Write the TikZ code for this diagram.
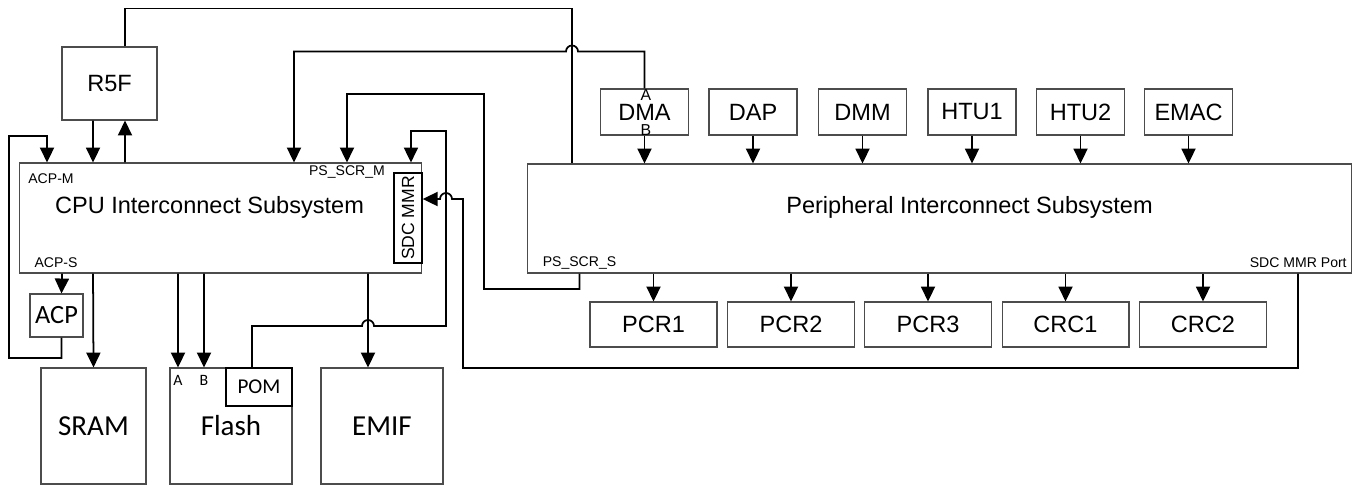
\documentclass[tikz,border=0pt]{standalone}
\usepackage{fontspec}
\setmainfont{Liberation Sans}
\newfontfamily\calfont{Carlito}
\usetikzlibrary{arrows.meta}

\begin{document}
\begin{tikzpicture}[x=0.02cm, y=-0.02cm,
  blk/.style={draw=black!70, line width=0.6pt, inner sep=0pt, font=\fontsize{13.4}{15}\selectfont},
  mem/.style={blk, font=\calfont\fontsize{16.5}{19}\selectfont},
  tag/.style={inner sep=0pt, font=\fontsize{8}{9}\selectfont},
  wire/.style={line width=1pt},
  arr/.style={wire, -{Triangle[length=8.5pt,width=8pt]}}]

\useasboundingbox (0,0) rectangle (1354,485);

% CPU side
\node[blk, minimum width=1.9cm, minimum height=1.46cm] (r5f) at (109.5,83.5) {R5F};
\node[blk, minimum width=8.06cm, minimum height=2.2cm] (cpu) at (220.5,218) {};
\node[inner sep=0pt, font=\fontsize{13.4}{15}\selectfont] (cpulbl) at (209.5,207) {CPU Interconnect Subsystem};
\node[draw, line width=0.8pt, minimum width=0.56cm, minimum height=1.8cm, inner sep=0pt] (sdc) at (408,218) {};
\node[rotate=90, inner sep=0pt, font=\fontsize{10}{11}\selectfont] (sdclbl) at (sdc) {SDC MMR};
\node[tag] (acpm) at (51,179) {ACP-M};
\node[tag] (acps) at (56,263) {ACP-S};
\node[tag] (psm) at (347,172) {PS\_SCR\_M};
\node[blk, font=\calfont\fontsize{15}{17}\selectfont, minimum width=1.06cm, minimum height=0.86cm] (acp) at (56.5,315.5) {ACP};

% memories
\node[mem, minimum width=2.1cm, minimum height=2.32cm] (sram) at (93.5,426) {SRAM};
\node[mem, minimum width=2.44cm, minimum height=2.32cm] (flash) at (231,426) {Flash};
\node[mem, minimum width=2.44cm, minimum height=2.32cm] (emif) at (382,426) {EMIF};
\node[draw, fill=white, line width=0.9pt, inner sep=0pt, minimum width=1.32cm, minimum height=0.76cm, font=\calfont\fontsize{12}{14}\selectfont] (pom) at (259,387) {POM};
\node[inner sep=0pt, font=\calfont\fontsize{9}{10}\selectfont] (fla) at (178,380) {A};
\node[inner sep=0pt, font=\calfont\fontsize{9}{10}\selectfont] (flb) at (204,380) {B};

% Peripheral side
\node[blk, minimum width=16.5cm, minimum height=2.18cm] (pis) at (939.5,218.5) {};
\node[inner sep=0pt, font=\fontsize{13.4}{15}\selectfont] (pislbl) at (969.5,207) {Peripheral Interconnect Subsystem};
\node[tag] (pss) at (579.5,263) {PS\_SCR\_S};
\node[tag, anchor=east] (sdcport) at (1347,263) {SDC MMR Port};

\foreach \n/\t/\x in {dma/DMA/644.5, dap/DAP/753, dmm/DMM/862.5, htu1/HTU1/972, htu2/HTU2/1080.5, emac/EMAC/1188.5} {
  \node[blk, minimum width=1.76cm, minimum height=0.92cm] (\n) at (\x,112) {\t};
  \draw[arr] (\n.south) -- (\n.south |- pis.north);
}
\node[tag, font=\fontsize{9}{10}\selectfont] (dmaa) at (646,95) {A};
\node[tag, font=\fontsize{9}{10}\selectfont] (dmab) at (646,130) {B};

\foreach \n/\t/\x in {pcr1/PCR1/653.5, pcr2/PCR2/791, pcr3/PCR3/928, crc1/CRC1/1065.5, crc2/CRC2/1203} {
  \node[blk, minimum width=2.54cm, minimum height=0.9cm] (\n) at (\x,324.5) {\t};
  \draw[arr] (pis.south -| \n.north) -- (\n.north);
}

% R5F links
\draw[arr] ([xshift=-.33cm]r5f.south) -- ([xshift=-2.55cm]cpu.north);
\draw[arr] ([xshift=-1.91cm]cpu.north) -- ([xshift=.31cm]r5f.south);
\draw[wire] ([xshift=.31cm]r5f.north) -- ++(0,-38) -| ([xshift=-7.35cm]pis.north);

% ACP loop
\draw[arr] ([xshift=-3.17cm]cpu.south) -- ([xshift=.1cm]acp.north);
\draw[arr] ([xshift=.1cm]acp.south) |- (9,358) |- (47,136) -- ([xshift=-3.47cm]cpu.north);

% memories
\draw[arr] ([xshift=-2.55cm]cpu.south) -- (sram.north);
\draw[arr] ([xshift=-.85cm]cpu.south) -- ([xshift=-1.06cm]flash.north);
\draw[arr] ([xshift=-.33cm]cpu.south) -- ([xshift=-.54cm]flash.north);
\draw[arr] ([xshift=2.95cm]cpu.south) -- ([xshift=-.28cm]emif.north);

% cross links
\draw[arr] (dma.north) -- ++(0,-37) -- ++(-66.5,0) arc[start angle=0, end angle=-180, radius=6] -| ([xshift=1.47cm]cpu.north);
\draw[arr] ([xshift=-7.2cm]pis.south) |- (484,289) |- (347,94) -- ([xshift=2.53cm]cpu.north);
\draw[arr] ([xshift=-.14cm]pom.north) |- (362,326) arc[start angle=180, end angle=360, radius=6] -| (446,131) -| ([xshift=3.81cm]cpu.north);
\draw[arr] ([xshift=7.17cm]pis.south) |- (463,368) -- (463,199) -- (452,199) arc[start angle=0, end angle=-180, radius=6] -- ([yshift=.38cm]sdc.east);

\end{tikzpicture}
\end{document}
